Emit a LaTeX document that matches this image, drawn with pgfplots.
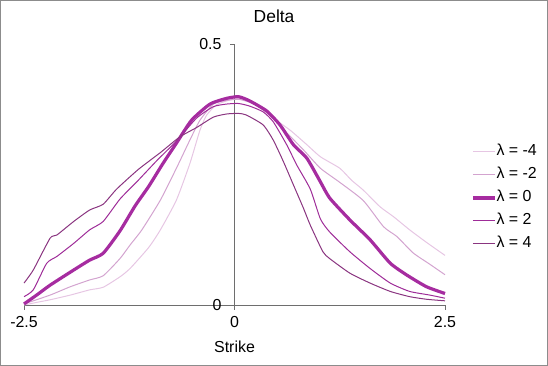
\documentclass[border=0pt]{standalone}
\usepackage{fontspec}
\setmainfont{Liberation Sans}
\usepackage{pgfplots}
\pgfplotsset{compat=1.18}
\definecolor{lmfour}{HTML}{E6C6E3}
\definecolor{lmtwo}{HTML}{D3A3CF}
\definecolor{lzero}{HTML}{A62CA0}
\definecolor{ltwo}{HTML}{9E2C98}
\definecolor{lfour}{HTML}{8A3580}
\definecolor{axgray}{HTML}{6E6E6E}
\begin{document}
\begin{tikzpicture}
\begin{axis}[
 scale only axis, width=421bp, height=261bp,
 xmin=-2.5, xmax=2.5, ymin=0, ymax=0.5,
 axis x line=bottom, axis y line=middle,
 axis line style={-, draw=axgray, line width=0.9bp},
 hide obscured x ticks=false, hide obscured y ticks=false,
 tick align=outside, major tick length=4.5bp,
 tick style={draw=axgray, line width=0.9bp},
 xtick={-2.5,0,2.5}, xticklabels={-2.5,0,2.5},
 ytick={0,0.5}, yticklabels={0,0.5},
 ticklabel style={font=\fontsize{16}{18}\selectfont},
 xticklabel style={yshift=-3.5bp},
 yticklabel style={xshift=-5bp},
 xlabel={Strike},
 xlabel style={at={(axis description cs:0.5,0)}, anchor=center, yshift=-42bp, font=\fontsize{16}{18}\selectfont},
 title={Delta},
 title style={at={(axis description cs:0.594,1)}, anchor=center, yshift=21.5bp, font=\fontsize{17.5}{20}\selectfont},
 legend style={draw=none, fill=none, at={(axis description cs:1.062,0.41)}, anchor=west,
   font=\fontsize{16}{18}\selectfont, inner sep=0pt, row sep=9bp,
   nodes={inner sep=0pt, text height=11bp, text depth=3bp}},
 legend cell align=left,
 legend image code/.code={\draw[#1] (0bp,0bp) -- (22bp,0bp);},
 every legend entry/.append style={xshift=4bp},
 every axis plot/.append style={line join=round, smooth, tension=0.35},
 clip=false,
]
% lambda = -4
\addplot[lmfour, line width=1bp] coordinates {
(-2.50,0.000) (-2.35,0.005) (-2.19,0.010) (-1.95,0.019) (-1.72,0.029)
(-1.56,0.034) (-1.36,0.054) (-1.24,0.070) (-1.02,0.110) (-0.88,0.144)
(-0.69,0.201) (-0.53,0.271) (-0.41,0.335) (-0.33,0.364) (-0.21,0.384)
(-0.05,0.393) (0.05,0.395) (0.22,0.389) (0.46,0.358) (0.66,0.335)
(0.86,0.307) (1.02,0.284) (1.25,0.262) (1.39,0.239) (1.53,0.220)
(1.73,0.188) (1.89,0.169) (2.08,0.144) (2.28,0.120) (2.50,0.095)};
\addlegendentry{λ = -4}
% lambda = -2
\addplot[lmtwo, line width=1bp] coordinates {
(-2.50,0.002) (-2.19,0.019) (-1.95,0.035) (-1.72,0.048) (-1.56,0.056)
(-1.36,0.089) (-1.24,0.115) (-1.10,0.144) (-0.88,0.201) (-0.69,0.262)
(-0.53,0.316) (-0.41,0.354) (-0.25,0.385) (-0.09,0.392) (0.05,0.394)
(0.22,0.386) (0.42,0.364) (0.62,0.330) (0.82,0.297) (1.02,0.262)
(1.25,0.235) (1.53,0.200) (1.77,0.150) (1.93,0.131) (2.12,0.100)
(2.32,0.078) (2.50,0.058)};
\addlegendentry{λ = -2}
% lambda = 0
\addplot[lzero, line width=3.2bp] coordinates {
(-2.50,0.002) (-2.35,0.019) (-2.19,0.038) (-1.91,0.067) (-1.72,0.086)
(-1.56,0.099) (-1.36,0.142) (-1.18,0.190) (-1.02,0.227) (-0.85,0.271)
(-0.69,0.310) (-0.51,0.354) (-0.29,0.385) (-0.09,0.396) (0.05,0.399)
(0.18,0.391) (0.38,0.372) (0.54,0.345) (0.70,0.307) (0.86,0.281)
(1.02,0.236) (1.13,0.205) (1.37,0.163) (1.61,0.125) (1.85,0.080)
(2.05,0.057) (2.28,0.035) (2.50,0.022)};
\addlegendentry{λ = 0}
% lambda = 2
\addplot[ltwo, line width=1bp] coordinates {
(-2.50,0.016) (-2.39,0.029) (-2.23,0.080) (-2.11,0.093) (-1.91,0.118)
(-1.72,0.144) (-1.56,0.160) (-1.36,0.203) (-1.16,0.236) (-0.92,0.277)
(-0.69,0.314) (-0.45,0.358) (-0.25,0.380) (-0.09,0.385) (0.05,0.386)
(0.18,0.381) (0.34,0.370) (0.46,0.351) (0.62,0.307) (0.74,0.268)
(0.90,0.222) (1.02,0.165) (1.13,0.140) (1.37,0.102) (1.61,0.070)
(1.85,0.042) (2.08,0.026) (2.32,0.019) (2.50,0.013)};
\addlegendentry{λ = 2}
% lambda = 4
\addplot[lfour, line width=1bp] coordinates {
(-2.50,0.042) (-2.39,0.067) (-2.19,0.128) (-2.11,0.134) (-1.91,0.160)
(-1.72,0.182) (-1.56,0.193) (-1.40,0.222) (-1.14,0.260) (-0.88,0.292)
(-0.65,0.322) (-0.45,0.340) (-0.25,0.360) (-0.09,0.366) (0.05,0.367)
(0.14,0.364) (0.34,0.345) (0.46,0.316) (0.58,0.275) (0.70,0.230)
(0.82,0.185) (0.90,0.153) (1.05,0.102) (1.13,0.089) (1.37,0.061)
(1.61,0.042) (1.85,0.026) (2.08,0.016) (2.28,0.011) (2.50,0.008)};
\addlegendentry{λ = 4}
\end{axis}
\pgfresetboundingbox
\draw[gray!90, line width=1bp] (-23.5bp,-60.5bp) rectangle (523.5bp,304.5bp);
\useasboundingbox (-24bp,-61bp) rectangle (524bp,305bp);
\end{tikzpicture}
\end{document}
